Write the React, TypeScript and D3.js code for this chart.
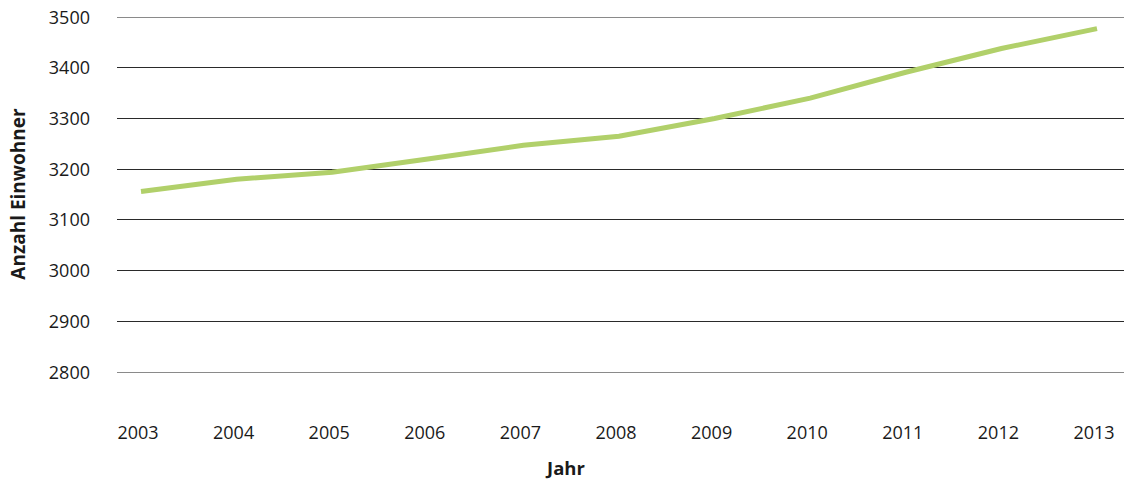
import React from "react";
import * as d3 from "d3";

const years = ["2003","2004","2005","2006","2007","2008","2009","2010","2011","2012","2013"];
const population = [3155, 3179, 3193, 3219, 3246, 3264, 3299, 3339, 3390, 3437, 3476];
const yTicks = [2800, 2900, 3000, 3100, 3200, 3300, 3400, 3500];

export default function App() {
  const W = 1124, H = 481;
  const x = d3.scalePoint<string>().domain(years).range([141, 1097]);
  const y = d3.scaleLinear().domain([2800, 3500]).range([371.5, 16.5]);
  const line = d3.line<number>().x((_, i) => x(years[i])!).y(d => y(d));
  const font = "'Open Sans', 'Noto Sans', sans-serif";
  return (
    <svg width={W} height={H} style={{ position: "absolute", left: 0, top: 0 }} fontFamily={font}>
      {yTicks.map(t => (
        <g key={t}>
          <line x1={117} x2={1124} y1={Math.round(y(t)) + 0.5} y2={Math.round(y(t)) + 0.5}
            stroke={t === 3500 || t === 2800 ? "#8a8a8a" : "#2a2a2a"} strokeWidth={1} />
          <text x={90} y={y(t)} textAnchor="end" dominantBaseline="central" fontSize={18} fill="#1a1a1a">{t}</text>
        </g>
      ))}
      {years.map(yr => (
        <text key={yr} x={x(yr)! - 3} y={432} textAnchor="middle" dominantBaseline="central" fontSize={18} fill="#1a1a1a">{yr}</text>
      ))}
      <path d={line(population)!} fill="none" stroke="#b1d06a" strokeWidth={5} />
      <text transform={`translate(18,194) rotate(-90)`} textAnchor="middle" dominantBaseline="central" fontSize={19} fontWeight="bold" fill="#1a1a1a">Anzahl Einwohner</text>
      <text x={566} y={467} textAnchor="middle" dominantBaseline="central" fontSize={18.5} fontWeight="bold" fill="#1a1a1a">Jahr</text>
    </svg>
  );
}
